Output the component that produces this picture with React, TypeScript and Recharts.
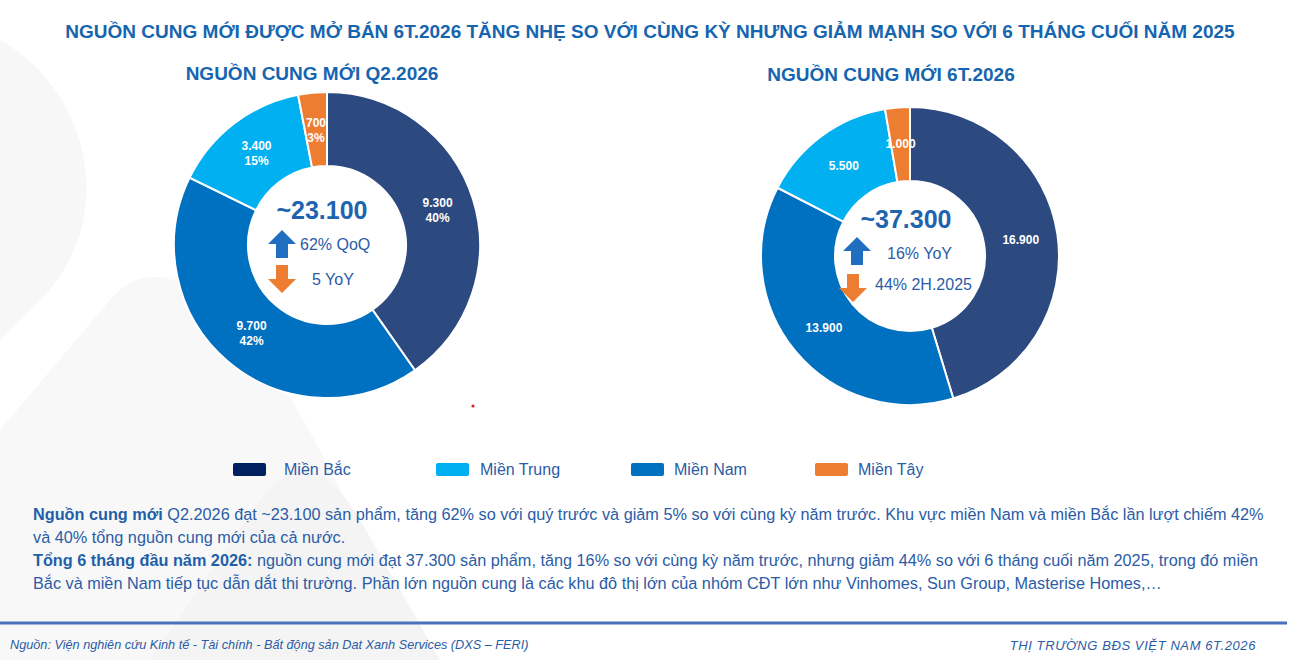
import React from 'react';
import { PieChart, Pie, Cell } from 'recharts';

// Regions and their colours
const regions = ['Miền Bắc', 'Miền Nam', 'Miền Trung', 'Miền Tây'];
const sliceColors = ['#2C4A80', '#0070C0', '#00B0F0', '#ED7D31'];
const legendOrder = ['Miền Bắc', 'Miền Trung', 'Miền Nam', 'Miền Tây'];
const legendColors: Record<string, string> = {
  'Miền Bắc': '#002060',
  'Miền Trung': '#00B0F0',
  'Miền Nam': '#0070C0',
  'Miền Tây': '#ED7D31',
};

// New supply by region (units)
const supplyQ2 = [9300, 9700, 3400, 700];
const supplyH1 = [16900, 13900, 5500, 1000];

const totalQ2 = '~23.100';
const totalH1 = '~37.300';
const q2Up = '62% QoQ';
const q2Down = '5 YoY';
const h1Up = '16% YoY';
const h1Down = '44% 2H.2025';

const q2Data = regions.map((name, i) => ({ name, value: supplyQ2[i] }));
const h1Data = regions.map((name, i) => ({ name, value: supplyH1[i] }));

const FONT = 'Arial, "Liberation Sans", sans-serif';
const BLUE = '#1F64AE';
const HEAD_BLUE = '#1565B0';
const TEXT_BLUE = '#2B5CA6';
const RAD = Math.PI / 180;

const fmt = (v: number) => v.toLocaleString('de-DE');

const makeLabel = (showPct: boolean) => (props: any) => {
  const { cx, cy, midAngle, innerRadius, outerRadius, value, percent } = props;
  const r = (innerRadius + outerRadius) / 2;
  const x = cx + r * Math.cos(-midAngle * RAD);
  const y = cy + r * Math.sin(-midAngle * RAD);
  return (
    <text
      x={x}
      y={y}
      fill="#fff"
      textAnchor="middle"
      fontFamily={FONT}
      fontWeight="bold"
      fontSize={12}
    >
      {showPct ? (
        <>
          <tspan x={x} dy={-3}>{fmt(value)}</tspan>
          <tspan x={x} dy={15}>{Math.round(percent * 100)}%</tspan>
        </>
      ) : (
        <tspan x={x} dy={4}>{fmt(value)}</tspan>
      )}
    </text>
  );
};

const Arrow = ({ x, y, up, color }: { x: number; y: number; up: boolean; color: string }) => {
  // block arrow 28 wide, 28 tall
  const pts = up
    ? '14,0 28,14 20,14 20,28 8,28 8,14 0,14'
    : '8,0 20,0 20,14 28,14 14,28 0,14 8,14';
  return (
    <svg style={{ position: 'absolute', left: x, top: y }} width={28} height={28}>
      <polygon points={pts} fill={color} />
    </svg>
  );
};

const abs = (left: number, top: number, extra: React.CSSProperties = {}): React.CSSProperties => ({
  position: 'absolute',
  left,
  top,
  whiteSpace: 'nowrap',
  fontFamily: FONT,
  ...extra,
});

const legendSwatchX = [233, 436, 631, 815];
const legendTextX = [284, 480, 674, 858];

export default function App() {
  return (
    <div
      style={{
        position: 'absolute',
        left: 0,
        top: 0,
        width: 1293,
        height: 660,
        background: '#fff',
        overflow: 'hidden',
        fontFamily: FONT,
      }}
    >
      {/* faint background shapes */}
      <svg style={{ position: 'absolute', left: 0, top: 0 }} width={1293} height={660}>
        <path d="M0,40 C90,90 120,220 40,300 L0,340 Z" fill="#f7f7f7" />
        <path d="M0,430 L110,300 C170,230 260,330 330,470 L430,660 L0,660 Z" fill="#f8f8f8" />
        <path d="M150,660 L260,500 C300,450 330,470 360,520 L440,660 Z" fill="#f4f4f4" />
        <line x1={0} y1={623} x2={1287} y2={623} stroke="#4A72B8" strokeWidth={3} />
        <circle cx={473} cy={406} r={1.6} fill="#E02020" />
      </svg>

      <div style={abs(0, 21, { width: 1300, textAlign: 'center', fontSize: 19, fontWeight: 'bold', color: HEAD_BLUE })}>
        NGUỒN CUNG MỚI ĐƯỢC MỞ BÁN 6T.2026 TĂNG NHẸ SO VỚI CÙNG KỲ NHƯNG GIẢM MẠNH SO VỚI 6 THÁNG CUỐI NĂM 2025
      </div>
      <div style={abs(112, 63, { width: 400, textAlign: 'center', fontSize: 19, fontWeight: 'bold', color: HEAD_BLUE })}>
        NGUỒN CUNG MỚI Q2.2026
      </div>
      <div style={abs(691, 64, { width: 400, textAlign: 'center', fontSize: 19, fontWeight: 'bold', color: HEAD_BLUE })}>
        NGUỒN CUNG MỚI 6T.2026
      </div>

      <div style={{ position: 'absolute', left: 0, top: 0 }}>
        <PieChart width={1293} height={440} margin={{ top: 0, right: 0, bottom: 0, left: 0 }}>
          <Pie
            data={q2Data}
            dataKey="value"
            nameKey="name"
            cx={327}
            cy={245}
            innerRadius={79}
            outerRadius={153}
            startAngle={90}
            endAngle={-270}
            stroke="#fff"
            strokeWidth={2}
            label={makeLabel(true)}
            labelLine={false}
            isAnimationActive={false}
          >
            {q2Data.map((d, i) => (
              <Cell key={d.name} fill={sliceColors[i]} />
            ))}
          </Pie>
          <Pie
            data={h1Data}
            dataKey="value"
            nameKey="name"
            cx={910}
            cy={256}
            innerRadius={75}
            outerRadius={149}
            startAngle={90}
            endAngle={-270}
            stroke="#fff"
            strokeWidth={2}
            label={makeLabel(false)}
            labelLine={false}
            isAnimationActive={false}
          >
            {h1Data.map((d, i) => (
              <Cell key={d.name} fill={sliceColors[i]} />
            ))}
          </Pie>
        </PieChart>
      </div>

      {/* centre of the quarterly donut */}
      <div style={abs(222, 196, { width: 200, textAlign: 'center', fontSize: 25, fontWeight: 'bold', color: BLUE })}>
        {totalQ2}
      </div>
      <Arrow x={268} y={230} up color="#1F6EC0" />
      <div style={abs(300, 236, { fontSize: 16, color: TEXT_BLUE })}>{q2Up}</div>
      <Arrow x={268} y={265} up={false} color="#ED7D31" />
      <div style={abs(312, 271, { fontSize: 16, color: TEXT_BLUE })}>{q2Down}</div>

      {/* centre of the half-year donut */}
      <div style={abs(806, 205, { width: 200, textAlign: 'center', fontSize: 25, fontWeight: 'bold', color: BLUE })}>
        {totalH1}
      </div>
      <Arrow x={843} y={237} up color="#1F6EC0" />
      <div style={abs(887, 245, { fontSize: 16, color: TEXT_BLUE })}>{h1Up}</div>
      <Arrow x={839} y={274} up={false} color="#ED7D31" />
      <div style={abs(875, 276, { fontSize: 16, color: TEXT_BLUE })}>{h1Down}</div>

      {/* legend */}
      {legendOrder.map((name, i) => (
        <React.Fragment key={name}>
          <div
            style={{
              position: 'absolute',
              left: legendSwatchX[i],
              top: 463,
              width: 33,
              height: 13,
              borderRadius: 2,
              background: legendColors[name],
            }}
          />
          <div style={abs(legendTextX[i], 461, { fontSize: 16, color: TEXT_BLUE })}>{name}</div>
        </React.Fragment>
      ))}

      {/* commentary */}
      <div style={abs(33, 503, { fontSize: 16.25, lineHeight: '23px', color: TEXT_BLUE })}>
        <div>
          <b style={{ color: '#1F5FA8' }}>Nguồn cung mới</b> Q2.2026 đạt ~23.100 sản phẩm, tăng 62% so với quý trước và giảm 5% so với cùng kỳ năm trước. Khu vực miền Nam và miền Bắc lần lượt chiếm 42%
        </div>
        <div>và 40% tổng nguồn cung mới của cả nước.</div>
        <div>
          <b style={{ color: '#1F5FA8' }}>Tổng 6 tháng đầu năm 2026:</b> nguồn cung mới đạt 37.300 sản phẩm, tăng 16% so với cùng kỳ năm trước, nhưng giảm 44% so với 6 tháng cuối năm 2025, trong đó miền
        </div>
        <div>Bắc và miền Nam tiếp tục dẫn dắt thi trường. Phần lớn nguồn cung là các khu đô thị lớn của nhóm CĐT lớn như Vinhomes, Sun Group, Masterise Homes,…</div>
      </div>

      {/* footer */}
      <div style={abs(10, 638, { fontSize: 12.7, fontStyle: 'italic', color: TEXT_BLUE })}>
        Nguồn: Viện nghiên cứu Kinh tế - Tài chính - Bất động sản Dat Xanh Services (DXS – FERI)
      </div>
      <div style={abs(956, 638, { width: 300, textAlign: 'right', fontSize: 13, letterSpacing: 0.6, fontStyle: 'italic', color: TEXT_BLUE })}>
        THỊ TRƯỜNG BĐS VIỆT NAM 6T.2026
      </div>
    </div>
  );
}
